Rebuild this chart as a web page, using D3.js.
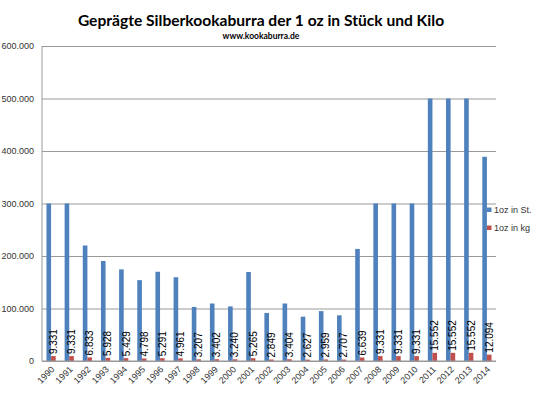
<!DOCTYPE html>
<html>
<head>
<meta charset="utf-8">
<script src="https://cdn.jsdelivr.net/npm/d3@7"></script>
<style>
  body { margin: 0; background: #fff; }
  svg { display: block; font-family: "Liberation Sans", Arial, sans-serif; }
</style>
</head>
<body>
<svg id="chart" width="540" height="398"></svg>
<script>
// values
var years = ["1990","1991","1992","1993","1994","1995","1996","1997","1998","1999","2000","2001","2002",
             "2003","2004","2005","2006","2007","2008","2009","2010","2011","2012","2013","2014"];
var stueck = [300000,300000,220000,190500,174500,154000,170000,159500,103000,109500,104000,169500,91500,
              109500,84500,95000,87000,213500,300000,300000,300000,500000,500000,500000,389000];
var kilo = [9331,9331,6833,5928,5429,4798,5291,4961,3207,3402,3240,5265,2849,
            3404,2627,2959,2707,6639,9331,9331,9331,15552,15552,15552,12094];
var yTicks = [0,100000,200000,300000,400000,500000,600000];
var seriesNames = ["1oz in St.", "1oz in kg"];

var Chart = (function () {

  var colors = { "blue": "#4F81BD", "red": "#C0504D" };
  var de = d3.formatLocale({ decimal: ",", thousands: ".", grouping: [3], currency: ["", "€"] });
  var fmt = de.format(",d");

  var left = 42, right = 496, top = 46, bottom = 361;

  return {
    Draw: function () {
      var svg = d3.select("#chart");

      var x = d3.scaleBand().domain(years).range([left, right]).padding(0);
      var inner = d3.scaleBand().domain(["st", "kg"]).range([0, x.bandwidth()])
                    .paddingInner(0).paddingOuter(0.97);
      var y = d3.scaleLinear().domain([0, 600000]).range([bottom, top]);

      // title
      svg.append("text")
         .attr("x", 261).attr("y", 26)
         .attr("text-anchor", "middle")
         .style("font-family", "Lato, sans-serif")
         .style("font-weight", "bold")
         .style("font-size", "15.6px")
         .text("Geprägte Silberkookaburra der 1 oz in Stück und Kilo");

      svg.append("text")
         .attr("x", 261).attr("y", 39)
         .attr("text-anchor", "middle")
         .style("font-family", "Lato, sans-serif")
         .style("font-weight", "bold")
         .style("font-size", "8.5px")
         .text("www.kookaburra.de");

      // gridlines + y labels
      var yAxis = d3.axisLeft(y).tickValues(yTicks).tickSize(-(right - left)).tickPadding(8)
                    .tickFormat(function (d) { return fmt(d); });
      var ga = svg.append("g").attr("transform", "translate(" + left + ",0)").call(yAxis);
      ga.select(".domain").attr("stroke", "#999").attr("d", "M0," + top + "V" + bottom);
      ga.selectAll(".tick line").attr("stroke", "#999");
      ga.selectAll(".tick text")
        .attr("fill", "#333")
        .style("font-size", "9px")
        .style("font-family", "Liberation Sans, Arial, sans-serif");

      // bars
      svg.append("g").selectAll("rect")
         .data(stueck).enter().append("rect")
         .attr("x", function (d, i) { return x(years[i]) + inner("st"); })
         .attr("y", function (d) { return y(d); })
         .attr("width", inner.bandwidth())
         .attr("height", function (d) { return y(0) - y(d); })
         .attr("fill", colors.blue);

      svg.append("g").selectAll("rect")
         .data(kilo).enter().append("rect")
         .attr("x", function (d, i) { return x(years[i]) + inner("kg"); })
         .attr("y", function (d) { return y(d); })
         .attr("width", inner.bandwidth())
         .attr("height", function (d) { return y(0) - y(d); })
         .attr("fill", colors.red);

      // kg labels
      svg.append("g").selectAll("text")
         .data(kilo).enter().append("text")
         .attr("transform", function (d, i) {
           var cx = x(years[i]) + inner("kg") + inner.bandwidth() / 2 + 3.5;
           return "translate(" + cx + "," + (y(d) - 2) + ") rotate(-90)";
         })
         .style("font-size", "10px")
         .attr("fill", "#000")
         .text(function (d) { return fmt(d); });

      // x axis line + labels
      svg.append("line")
         .attr("x1", left).attr("x2", right)
         .attr("y1", bottom).attr("y2", bottom)
         .attr("stroke", "#999");

      svg.append("g").selectAll("text")
         .data(years).enter().append("text")
         .attr("transform", function (d) {
           return "translate(" + (x(d) + x.bandwidth() / 2 + 4) + "," + (bottom + 9) + ") rotate(-45)";
         })
         .attr("text-anchor", "end")
         .style("font-size", "9px")
         .attr("fill", "#333")
         .text(function (d) { return d; });

      // legend
      var lg = svg.append("g").selectAll("g")
                  .data(seriesNames).enter().append("g")
                  .attr("transform", function (d, i) { return "translate(487," + (210 + i * 18) + ")"; });
      lg.append("rect")
        .attr("x", 0).attr("y", -2.5).attr("width", 4.5).attr("height", 4.5)
        .attr("fill", function (d, i) { return i == 0 ? colors.blue : colors.red; });
      lg.append("text")
        .attr("x", 7).attr("y", 3)
        .style("font-size", "9px")
        .attr("fill", "#333")
        .text(function (d) { return d; });
    }
  }
})()

Chart.Draw();
</script>
</body>
</html>
